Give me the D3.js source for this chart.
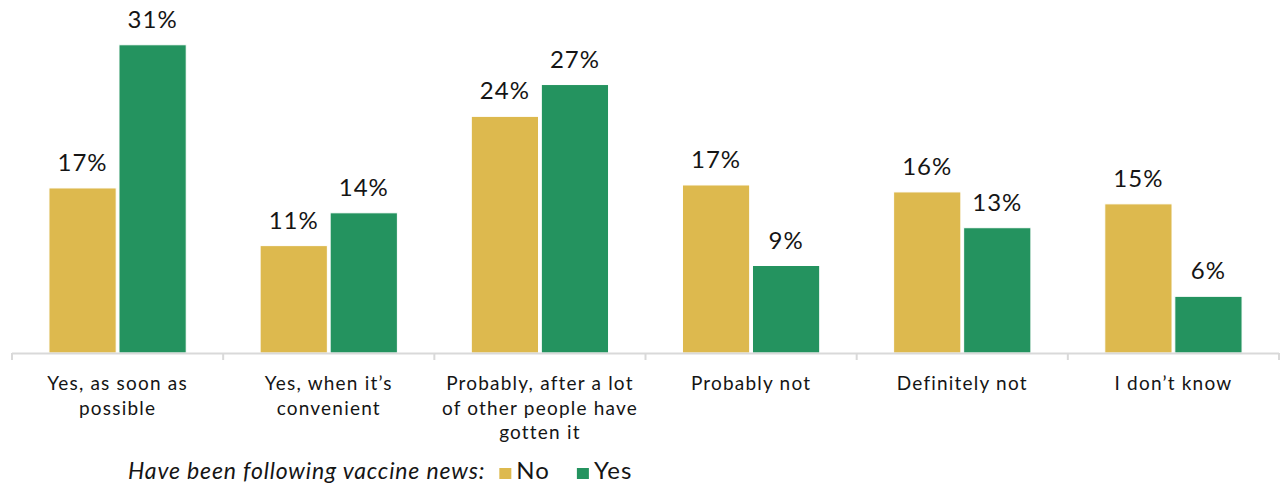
<!DOCTYPE html>
<html>
<head>
<meta charset="utf-8">
<script src="https://cdn.jsdelivr.net/npm/d3@7"></script>
<style>
  html, body { margin: 0; padding: 0; background: #fff; }
  svg text { font-family: Lato, "Noto Sans", sans-serif; fill: #151515; }
</style>
</head>
<body>
<svg id="chart" width="1286" height="485"></svg>
<script>
// categories and their wrapped tick labels
const categories = ["asap", "convenient", "afterOthers", "probNot", "defNot", "dontKnow"];
const tickLabels = [
  ["Yes, as soon as", "possible"],
  ["Yes, when it\u2019s", "convenient"],
  ["Probably, after a lot", "of other people have", "gotten it"],
  ["Probably not"],
  ["Definitely not"],
  ["I don\u2019t know"]
];
const series = ["No", "Yes"];
// (percent)
const noValues  = [16.6, 10.8, 23.8, 16.9, 16.2, 15.0];
const yesValues = [31.0, 14.1, 27.0, 8.8, 12.6, 5.7];
const colors = { No: "#ddb94e", Yes: "#24935f" };

const svg = d3.select("#chart");
const baseY = 353;

const x = d3.scaleBand()
  .domain(categories)
  .range([12, 1279])
  .paddingInner(0.35)
  .paddingOuter(0.175);

const xInner = d3.scaleBand()
  .domain(series)
  .range([0, x.bandwidth()])
  .paddingInner(0.04);

const y = d3.scaleLinear().domain([0, 35]).range([baseY, baseY - 348]);

const rows = categories.map((c, i) => ({ cat: c, No: noValues[i], Yes: yesValues[i] }));

// bars
const groups = svg.append("g").selectAll("g")
  .data(rows)
  .join("g")
    .attr("transform", d => `translate(${x(d.cat)},0)`);

groups.selectAll("rect")
  .data(d => series.map(s => ({ s: s, v: d[s] })))
  .join("rect")
    .attr("x", d => xInner(d.s))
    .attr("y", d => y(d.v))
    .attr("width", xInner.bandwidth())
    .attr("height", d => baseY - y(d.v))
    .attr("fill", d => colors[d.s])
    .attr("stroke", "#fff")
    .attr("stroke-width", 1);

groups.selectAll("text.val")
  .data(d => series.map(s => ({ s: s, v: d[s] })))
  .join("text")
    .attr("class", "val")
    .attr("x", d => xInner(d.s) + xInner.bandwidth() / 2)
    .attr("y", d => y(d.v) - 17)
    .attr("text-anchor", "middle")
    .style("font-size", "24px")
    .style("letter-spacing", "1px")
    .text(d => Math.round(d.v) + "%");

// axis line and ticks at band boundaries
const half = x.step() * x.paddingInner() / 2;
const tickXs = categories.map(c => x(c) - half).concat([x(categories[categories.length - 1]) + x.bandwidth() + half]);

svg.append("line")
  .attr("x1", tickXs[0]).attr("x2", tickXs[tickXs.length - 1])
  .attr("y1", baseY + 0.5).attr("y2", baseY + 0.5)
  .attr("stroke", "#d9d9d9").attr("stroke-width", 2);

svg.append("g").selectAll("line")
  .data(tickXs)
  .join("line")
    .attr("x1", d => d).attr("x2", d => d)
    .attr("y1", baseY).attr("y2", baseY + 7)
    .attr("stroke", "#d9d9d9").attr("stroke-width", 2);

// category labels
svg.append("g").selectAll("text")
  .data(categories)
  .join("text")
    .attr("x", d => x(d) + x.bandwidth() / 2)
    .attr("y", 390)
    .attr("text-anchor", "middle")
    .style("font-size", "19px")
    .style("letter-spacing", "1.2px")
    .each(function(d, i) {
      d3.select(this).selectAll("tspan")
        .data(tickLabels[i])
        .join("tspan")
          .attr("x", x(d) + x.bandwidth() / 2)
          .attr("dy", (t, j) => j === 0 ? 0 : 24.5)
          .text(t => t);
    });

// legend
const legend = svg.append("g");
const title = legend.append("text")
  .attr("x", 128).attr("y", 479)
  .style("font-size", "23px")
  .style("font-style", "italic")
  .style("letter-spacing", "0.85px")
  .text("Have been following vaccine news:");

let lx = 128 + title.node().getComputedTextLength() + 14;
series.forEach(s => {
  legend.append("rect")
    .attr("x", lx).attr("y", 468)
    .attr("width", 12).attr("height", 11)
    .attr("fill", colors[s]);
  const t = legend.append("text")
    .attr("x", lx + 17).attr("y", 479)
    .style("font-size", "24px")
    .style("letter-spacing", "1px")
    .text(s);
  lx += 17 + t.node().getComputedTextLength() + 27;
});
</script>
</body>
</html>
